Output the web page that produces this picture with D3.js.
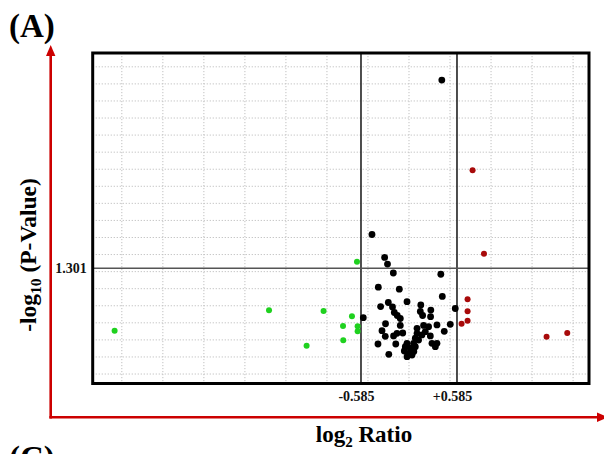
<!DOCTYPE html>
<meta charset="utf-8">
<style>
body { margin: 0; background: #fff; }
svg { display: block; font-family: "Liberation Serif", "Times New Roman", serif; font-weight: bold; }
.grid line { stroke: #c0c0c0; stroke-width: 1; stroke-dasharray: 1.2,1.8; }
.tick-lab text { font-size: 14px; fill: #111; font-weight: bold; }
</style>
<body>
<svg width="604" height="454"></svg>
<script src="https://d3js.org/d3.v7.min.js"></script>
<script>
// log2 ratio / -log10 p
var blackX = [0.400, -0.451, -0.297, -0.262, -0.191, 0.388, -0.374, -0.118, 0.406, -0.252,
              -0.024, -0.346, -0.201, 0.144, 0.138, 0.266, 0.564, -0.557, -0.179, -0.143,
              -0.106, 0.166, 0.263, -0.286, -0.106, 0.098, 0.178, 0.239, 0.341, 0.503,
              0.430, -0.329, -0.146, -0.076, 0.098, 0.199, 0.158, 0.260, -0.289, -0.188,
              0.077, 0.117, -0.378, -0.161, -0.024, 0.056, 0.280, 0.341, 0.321, -0.045,
              0.016, 0.077, -0.005, 0.037, -0.024, -0.246, -0.057, 0.059];
var blackY = [3.507, 1.697, 1.428, 1.351, 1.246, 1.231, 1.080, 1.056, 0.971, 0.900,
              0.910, 0.853, 0.848, 0.871, 0.795, 0.812, 0.830, 0.722, 0.783, 0.748,
              0.713, 0.748, 0.734, 0.651, 0.631, 0.598, 0.631, 0.617, 0.637, 0.645,
              0.563, 0.570, 0.539, 0.543, 0.539, 0.558, 0.520, 0.508, 0.504, 0.508,
              0.481, 0.461, 0.414, 0.414, 0.422, 0.422, 0.422, 0.422, 0.382, 0.382,
              0.364, 0.382, 0.305, 0.285, 0.265, 0.293, 0.332, 0.326];
var greenX = [-3.588, -1.706, -0.634, -1.041, -0.695, -0.804, -0.626, -0.626, -0.801, -1.248];
var greenY = [0.570, 0.809, 1.378, 0.801, 0.739, 0.625, 0.621, 0.563, 0.457, 0.394];
var redX = [0.775, 0.914, 0.714, 0.714, 0.714, 0.641, 1.677, 1.929];
var redY = [2.449, 1.472, 0.938, 0.797, 0.687, 0.652, 0.500, 0.543];

var xCut = [-0.585, 0.585];
var xCutLabels = ["-0.585", "+0.585"];
var yCut = 1.301;

var svg = d3.select("svg");

var pl = 92.7, pr = 589, pt = 53, pb = 383.5;

var x = d3.scaleLinear().domain([-3.855, 2.194]).range([pl, pr]);
var y = d3.scaleLinear().domain([-0.049, 3.824]).range([pb, pt]);

// dotted grid
var grid = svg.append("g").attr("class", "grid");
grid.selectAll(".gx")
    .data(d3.range(-3.5, 2.01, 0.5))
  .enter().append("line")
    .attr("x1", function(d) { return x(d); })
    .attr("x2", function(d) { return x(d); })
    .attr("y1", pt).attr("y2", pb);
grid.selectAll(".gy")
    .data(d3.range(0.062, 3.7, 0.2))
  .enter().append("line")
    .attr("y1", function(d) { return y(d); })
    .attr("y2", function(d) { return y(d); })
    .attr("x1", pl).attr("x2", pr);

// cut-off lines
svg.selectAll(".vcut")
    .data(xCut)
  .enter().append("line")
    .attr("x1", function(d) { return x(d); })
    .attr("x2", function(d) { return x(d); })
    .attr("y1", pt).attr("y2", pb)
    .attr("stroke", "#222").attr("stroke-width", 1.6);

svg.append("line")
    .attr("x1", pl).attr("x2", pr)
    .attr("y1", y(yCut)).attr("y2", y(yCut))
    .attr("stroke", "#555").attr("stroke-width", 1.6);

// frame
svg.append("rect")
    .attr("x", pl).attr("y", pt)
    .attr("width", pr - pl).attr("height", pb - pt)
    .attr("fill", "none").attr("stroke", "#000").attr("stroke-width", 3);

// points
function dots(xs, ys, col, r) {
  svg.append("g").selectAll("circle")
      .data(xs.map(function(v, i) { return [v, ys[i]]; }))
    .enter().append("circle")
      .attr("cx", function(d) { return x(d[0]); })
      .attr("cy", function(d) { return y(d[1]); })
      .attr("r", r)
      .attr("fill", col);
}
dots(greenX, greenY, "#1fd11f", 3);
dots(redX, redY, "#a80a0a", 3);
dots(blackX, blackY, "#000", 3.4);

// threshold labels
var xa = svg.append("g")
    .attr("class", "tick-lab")
    .attr("transform", "translate(0," + pb + ")")
    .call(d3.axisBottom(x).tickValues(xCut).tickSize(0).tickPadding(8)
      .tickFormat(function(d, i) { return xCutLabels[i]; }));
xa.select(".domain").remove();
xa.selectAll("text").attr("dx", -5);
xa.attr("font-family", null);

var ya = svg.append("g")
    .attr("class", "tick-lab")
    .attr("transform", "translate(" + pl + ",0)")
    .call(d3.axisLeft(y).tickValues([yCut]).tickSize(0).tickPadding(6)
      .tickFormat(d3.format(".3f")));
ya.select(".domain").remove();
ya.attr("font-family", null);

// red arrows
var red = "#cc0000";
svg.append("line").attr("x1", 50.7).attr("x2", 50.7).attr("y1", 418.5).attr("y2", 55)
    .attr("stroke", red).attr("stroke-width", 2.6);
svg.append("path").attr("d", "M46,56 L50.7,45 L55.4,56 Z").attr("fill", red);
svg.append("line").attr("x1", 49.4).attr("x2", 598).attr("y1", 417.3).attr("y2", 417.3)
    .attr("stroke", red).attr("stroke-width", 2.6);
svg.append("path").attr("d", "M597,412.6 L608,417.3 L597,422 Z").attr("fill", red);

// titles
svg.append("text").attr("x", 9).attr("y", 37).attr("font-size", 33).text("(A)");
svg.append("text").attr("x", 9).attr("y", 469).attr("font-size", 33).text("(C)");

var xl = svg.append("text").attr("x", 364).attr("y", 442)
    .attr("text-anchor", "middle").attr("font-size", 23);
xl.append("tspan").text("log");
xl.append("tspan").attr("font-size", 15).attr("dy", 5).text("2");
xl.append("tspan").attr("dy", -5).text(" Ratio");

var yl = svg.append("text")
    .attr("transform", "translate(36,255) rotate(-90)")
    .attr("text-anchor", "middle").attr("font-size", 23.5);
yl.append("tspan").text("-log");
yl.append("tspan").attr("font-size", 15.5).attr("dy", 5).text("10");
yl.append("tspan").attr("dy", -5).text(" (P-Value)");
</script>
</body>
